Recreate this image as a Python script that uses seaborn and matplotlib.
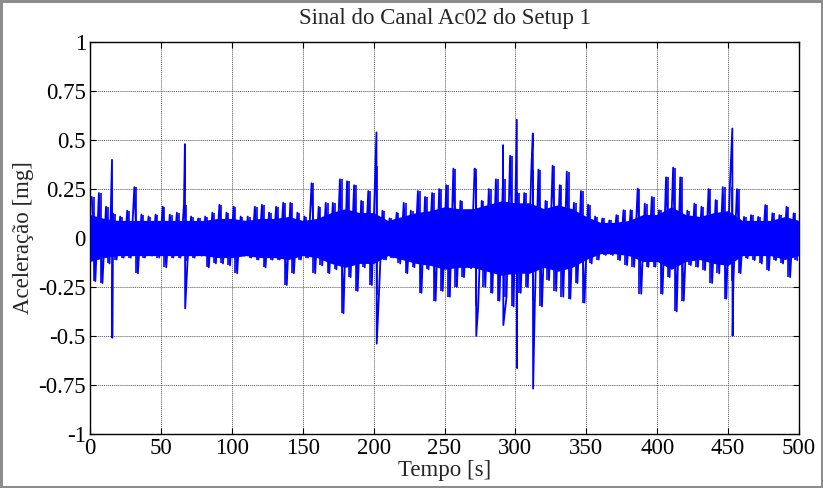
import numpy as np
import pandas as pd
import matplotlib
matplotlib.use("Agg")
import matplotlib.pyplot as plt
import seaborn as sns

# extremes of the signal in 5 s windows (window start times) [mg]
win_start = np.arange(0, 500, 5)
env_top = [0.21, 0.23, 0.16, 0.125, 0.11, 0.14, 0.26, 0.12, 0.11, 0.12,
           0.16, 0.12, 0.13, 0.17, 0.11, 0.10, 0.11, 0.13, 0.17, 0.13,
           0.16, 0.11, 0.11, 0.16, 0.17, 0.13, 0.16, 0.18, 0.18, 0.13,
           0.11, 0.28, 0.16, 0.18, 0.18, 0.30, 0.29, 0.27, 0.19, 0.24,
           0.37, 0.14, 0.10, 0.13, 0.18, 0.14, 0.24, 0.21, 0.23, 0.25,
           0.27, 0.355, 0.19, 0.14, 0.355, 0.19, 0.25, 0.30, 0.30, 0.42,
           0.23, 0.23, 0.35, 0.35, 0.19, 0.37, 0.27, 0.34, 0.18, 0.24,
           0.17, 0.11, 0.10, 0.09, 0.117, 0.142, 0.142, 0.253, 0.176, 0.21,
           0.142, 0.31, 0.36, 0.31, 0.14, 0.176, 0.16, 0.25, 0.194, 0.26,
           0.26, 0.25, 0.108, 0.117, 0.108, 0.168, 0.126, 0.117, 0.16, 0.126]
env_bot = [-0.22, -0.23, -0.13, -0.11, -0.10, -0.10, -0.18, -0.10, -0.09, -0.10,
           -0.15, -0.10, -0.10, -0.12, -0.10, -0.09, -0.15, -0.13, -0.13, -0.14,
           -0.18, -0.09, -0.10, -0.11, -0.15, -0.11, -0.11, -0.24, -0.18, -0.11,
           -0.10, -0.18, -0.14, -0.18, -0.16, -0.385, -0.20, -0.27, -0.15, -0.24,
           -0.29, -0.11, -0.10, -0.13, -0.18, -0.15, -0.28, -0.16, -0.32, -0.27,
           -0.30, -0.25, -0.20, -0.155, -0.35, -0.25, -0.28, -0.32, -0.30, -0.35,
           -0.28, -0.25, -0.32, -0.35, -0.215, -0.27, -0.30, -0.31, -0.23, -0.33,
           -0.13, -0.11, -0.087, -0.087, -0.113, -0.138, -0.147, -0.285, -0.147, -0.147,
           -0.285, -0.20, -0.375, -0.32, -0.138, -0.147, -0.164, -0.23, -0.181, -0.31,
           -0.22, -0.18, -0.104, -0.113, -0.13, -0.165, -0.113, -0.13, -0.20, -0.113]

# isolated spikes: time [s], max, min
spike_t = [15.5, 66.9, 202.0, 272.2, 291.3, 301.0, 312.3, 453.0]
spike_top = [0.40, 0.48, 0.54, 0.30, 0.475, 0.605, 0.535, 0.56]
spike_bot = [-0.51, -0.36, -0.54, -0.50, -0.445, -0.665, -0.77, -0.50]

# half-width of the dense (solid) core of the signal, every 10 s
core_t = np.arange(0, 501, 10)
core_amp = [0.12, 0.10, 0.09, 0.09, 0.09, 0.09, 0.09, 0.09, 0.09, 0.10,
            0.10, 0.09, 0.10, 0.10, 0.11, 0.09, 0.10, 0.13, 0.15, 0.13,
            0.13, 0.09, 0.11, 0.13, 0.14, 0.16, 0.15, 0.15, 0.17, 0.19,
            0.18, 0.18, 0.15, 0.17, 0.15, 0.11, 0.08, 0.08, 0.09, 0.12,
            0.12, 0.16, 0.12, 0.11, 0.13, 0.14, 0.09, 0.09, 0.09, 0.11, 0.09]

title = 'Sinal do Canal Ac02 do Setup 1'
xlabel = 'Tempo [s]'
ylabel = 'Aceleração [mg]'
yticks = [-1, -0.75, -0.5, -0.25, 0, 0.25, 0.5, 0.75, 1]
yticklabels = ['-1', '-0.75', '-0.5', '-0.25', '0', '0.25', '0.5', '0.75', '1']
xticks = [0, 50, 100, 150, 200, 250, 300, 350, 400, 450, 500]

sns.set_style("ticks")
plt.rcParams['font.family'] = ['Liberation Serif', 'DejaVu Serif']

# signal as a sequence of local max / min
ws = np.asarray(win_start, dtype=float)
sig = pd.concat([
    pd.DataFrame({'t': ws + 1.25, 'a': env_top}),
    pd.DataFrame({'t': ws + 3.75, 'a': env_bot}),
    pd.DataFrame({'t': np.asarray(spike_t), 'a': spike_top}),
    pd.DataFrame({'t': np.asarray(spike_t) + 0.2, 'a': spike_bot}),
]).sort_values('t').reset_index(drop=True)

fig = plt.figure(figsize=(8.23, 4.88), dpi=100, edgecolor='#8c8c8c', linewidth=2.5)
ax = fig.add_axes([0.1094, 0.1115, 0.8614, 0.8015])

ax.fill_between(core_t, -np.asarray(core_amp), core_amp, color='#0000ff', lw=0, zorder=3)
# vertical needles for each window's extremes
ax.vlines(ws + 2.5, env_bot, env_top, color='#0000ff', lw=1.2, zorder=4)
sns.lineplot(data=sig, x='t', y='a', ax=ax, color='#0000ff', lw=1.3,
             estimator=None, sort=True, zorder=4)

ax.set_xlim(0, 500)
ax.set_ylim(-1, 1)
ax.set_xticks(xticks)
ax.set_xticklabels([str(x) for x in xticks])
ax.set_yticks(yticks)
ax.set_yticklabels(yticklabels)
ax.tick_params(direction='in', top=True, right=True, labelsize=16.5, length=4,
               width=0.8, colors='black', pad=3)
ax.grid(True, color='#555555', linestyle=(0, (1, 1)), linewidth=0.7)
for s in ax.spines.values():
    s.set_color('black')
    s.set_linewidth(1.0)

ax.set_title(title, fontsize=16.5, pad=13)
ax.set_xlabel(xlabel, fontsize=16.5, labelpad=1)
ax.set_ylabel(ylabel, fontsize=16.5, labelpad=3)

fig.savefig('out.png', dpi=100)
